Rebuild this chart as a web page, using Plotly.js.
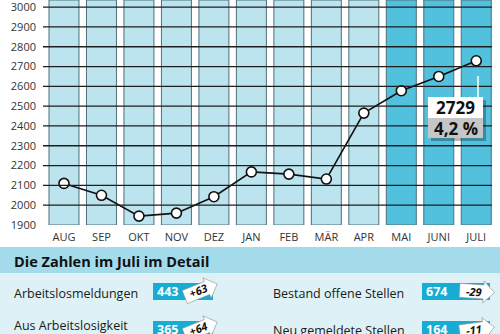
<!DOCTYPE html>
<html>
<head>
<meta charset="utf-8">
<script src="https://cdn.plot.ly/plotly-3.0.1.min.js"></script>
<style>
html,body{margin:0;padding:0;background:#fff;}
#chart{width:500px;height:334px;}
</style>
</head>
<body>
<div id="chart"></div>
<script>
// ---- data ----
const months = ['AUG','SEP','OKT','NOV','DEZ','JAN','FEB','MÄR','APR','MAI','JUNI','JULI'];
const values = [2110, 2050, 1945, 1960, 2043, 2168, 2157, 2132, 2465, 2578, 2650, 2729];
const highlightMonths = ['MAI','JUNI','JULI'];
const yTicks = [1900,2000,2100,2200,2300,2400,2500,2600,2700,2800,2900,3000];
const calloutValue = '2729';
const calloutRate = '4,2 %';
const headerText = 'Die Zahlen im Juli im Detail';
const leftLabels = ['Arbeitslosmeldungen', 'Aus Arbeitslosigkeit<br>abgemeldet'];
const leftValues = [443, 365];
const leftChanges = ['+63', '+64'];
const rightLabels = ['Bestand offene Stellen', 'Neu gemeldete Stellen'];
const rightValues = [674, 164];
const rightChanges = ['-29', '-11'];

// ---- styling / geometry ----
const FONT = 'Open Sans, Noto Sans, sans-serif';
const yRange = [1900, 3036];
const xRange = [-0.56, 11.42];
const M = {l:43, r:8, t:0, b:109};
const W = 500 - M.l - M.r, H = 334 - M.t - M.b;
const px = x => (x - M.l) / W;
const py = y => (M.t + H - y) / H;

const lightBar = '#bce4ef', darkBar = '#52c1de', barEdge = '#4f6f7a';
const cyan = '#17acd4';

const traces = [];
// background columns
traces.push({
  type:'bar', x: months,
  y: months.map(() => yRange[1] - yRange[0]),
  base: yRange[0],
  width: 0.8,
  marker:{color: months.map(m => highlightMonths.includes(m) ? darkBar : lightBar),
          line:{color: barEdge, width:1}},
  hoverinfo:'skip', showlegend:false
});
// gridlines (above columns, below the line)
const gx = [], gy = [];
yTicks.filter(t => t > yRange[0]).forEach(t => { gx.push(xRange[0], xRange[1], null); gy.push(t, t, null); });
traces.push({type:'scatter', mode:'lines', x: gx, y: gy, xaxis:'x2', yaxis:'y',
  line:{color:'#1e1e1e', width:1.3}, hoverinfo:'skip', showlegend:false});
// data line
traces.push({
  type:'scatter', mode:'lines+markers', x: months, y: values,
  line:{color:'#111', width:1.6},
  marker:{size:10, color:'#fff', line:{color:'#111', width:1.6}},
  showlegend:false, cliponaxis:false
});

const shapes = [];
const annotations = [];
function rect(x0,y0,x1,y1,fill){
  shapes.push({type:'rect', xref:'paper', yref:'paper', x0:px(x0), x1:px(x1), y0:py(y1), y1:py(y0),
    fillcolor:fill, line:{width:0}, layer:'above'});
}
function text(x,y,t,opts){
  annotations.push(Object.assign({xref:'paper', yref:'paper', x:px(x), y:py(y), text:t,
    showarrow:false, xanchor:'left', yanchor:'middle', borderpad:0,
    font:{family:FONT, size:12, color:'#1a1a1a'}}, opts||{}));
}
function arrow(cx, cy, ang, label){
  const len=35, bh=14, hh=22, hl=11;
  const x0=-len/2, x1=len/2, xb=x1-hl;
  const pts=[[x0,-bh/2],[xb,-bh/2],[xb,-hh/2],[x1,0],[xb,hh/2],[xb,bh/2],[x0,bh/2]];
  const a=ang*Math.PI/180;
  const rot=pts.map(([x,y])=>[cx + x*Math.cos(a) - y*Math.sin(a), cy + x*Math.sin(a) + y*Math.cos(a)]);
  const d='M'+rot.map(([x,y])=>px(x).toFixed(5)+','+py(y).toFixed(5)).join(' L')+' Z';
  shapes.push({type:'path', xref:'paper', yref:'paper', path:d, fillcolor:'#fff',
    line:{color:'#8a8a8a', width:0.6}, layer:'above'});
  text(cx-3, cy, '<b><i>'+label+'</i></b>', {xanchor:'center', textangle:ang,
    font:{family:FONT, size:11, color:'#111'}});
}

// callout
shapes.push({type:'line', xref:'paper', yref:'paper', x0:px(478), x1:px(478), y0:py(76), y1:py(97),
  line:{color:'#fff', width:1.5}, layer:'above'});
rect(431,100,486,141,'rgba(0,0,0,0.28)');
rect(428,97,483,118,'#ffffff');
rect(428,118,483,138,'#c6c6c6');
text(455.5,107.5,'<b>'+calloutValue+'</b>',{xanchor:'center', font:{family:FONT,size:17,color:'#111'}});
text(455.5,128,'<b>'+calloutRate+'</b>',{xanchor:'center', font:{family:FONT,size:17,color:'#111'}});

// detail section
rect(0,247,500,273,'#a4dbea');
rect(0,273,500,334,'#ddf1f6');
text(13,261.5,'<b>'+headerText+'</b>',{font:{family:FONT,size:14.5,color:'#111'}});

const rowY = [291.5, 329.5];
const labelY = [293, 333];
const rightLabelY = [293, 330];
leftLabels.forEach((l,i)=>{
  text(13, labelY[i], l, {font:{family:FONT,size:12.5,color:'#1a1a1a'}, align:'left'});
  rect(153, rowY[i]-8.5, 213, rowY[i]+8.5, cyan);
  text(156, rowY[i], '<b>'+leftValues[i]+'</b>', {font:{family:FONT,size:12.5,color:'#fff'}});
  arrow(201, rowY[i]-1, -22, leftChanges[i]);
});
rightLabels.forEach((l,i)=>{
  text(272, rightLabelY[i], l, {font:{family:FONT,size:12.5,color:'#1a1a1a'}});
  rect(422, rowY[i]-8.5, 490, rowY[i]+8.5, cyan);
  text(425, rowY[i], '<b>'+rightValues[i]+'</b>', {font:{family:FONT,size:12.5,color:'#fff'}});
  arrow(477, rowY[i], i===0 ? 4 : -8, rightChanges[i]);
});

const layout = {
  width:500, height:334,
  margin:M,
  paper_bgcolor:'#fff', plot_bgcolor:'#fff',
  bargap:0.2,
  xaxis:{type:'category', categoryarray: months, range:xRange, showgrid:false, zeroline:false,
    showline:false, ticks:'', ticklabelstandoff:4,
    tickfont:{family:FONT, size:11, color:'#333'}, fixedrange:true},
  xaxis2:{type:'linear', range:xRange, overlaying:'x', visible:false, fixedrange:true},
  yaxis:{range:yRange, tickvals:yTicks, showgrid:false, zeroline:false, showline:false,
    ticks:'', ticklabelstandoff:6, ticklabeloverflow:'allow',
    tickfont:{family:FONT, size:11, color:'#333'}, fixedrange:true},
  shapes, annotations,
  showlegend:false
};
Plotly.newPlot('chart', traces, layout, {displayModeBar:false, staticPlot:true});
</script>
</body>
</html>
